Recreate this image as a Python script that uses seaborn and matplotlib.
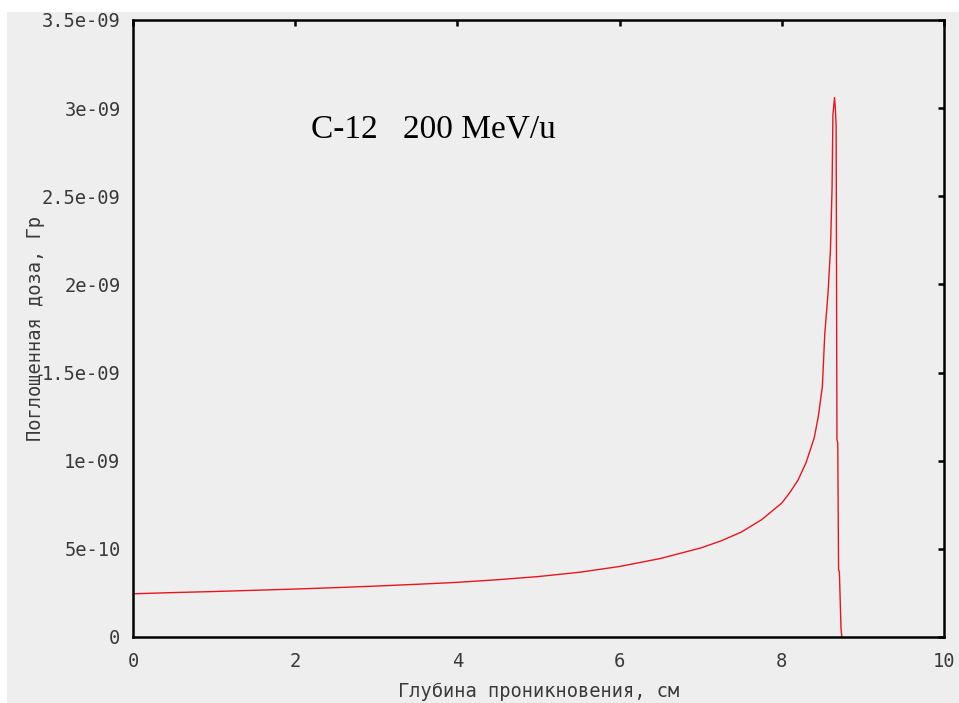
import matplotlib
matplotlib.use("Agg")
import matplotlib.pyplot as plt
import seaborn as sns
import pandas as pd
from matplotlib.ticker import FuncFormatter, MultipleLocator
from matplotlib.patches import Rectangle

# Depth (cm) and absorbed dose (Gy, in units of 1e-9)
depth = [0, 0.5, 1, 1.5, 2, 2.5, 3, 3.5, 4, 4.5, 5, 5.5, 6, 6.5, 7, 7.25,
         7.5, 7.75, 8.0, 8.1, 8.2, 8.3, 8.4, 8.45, 8.5, 8.53, 8.57, 8.6,
         8.62, 8.63, 8.65, 8.66, 8.67, 8.68, 8.69, 8.70, 8.71, 8.73, 8.74]
dose_e9 = [0.245, 0.252, 0.258, 0.265, 0.272, 0.280, 0.289, 0.299, 0.31,
           0.325, 0.343, 0.367, 0.40, 0.445, 0.505, 0.545, 0.595, 0.665, 0.76,
           0.82, 0.89, 0.99, 1.13, 1.25, 1.42, 1.72, 1.95, 2.20, 2.55,
           2.96, 3.06, 3.0, 2.9, 1.12, 1.1, 0.38, 0.37, 0.05, 0.0]

x_label = "Глубина проникновения, см"
y_label = "Поглощенная доза, Гр"
note = "C-12   200 MeV/u"

df = pd.DataFrame({"depth": depth, "dose": [v * 1e-9 for v in dose_e9]})

sns.set_theme(style="white")
plt.rcParams["font.family"] = ["DejaVu Sans Mono"]

bg = "#eeeeee"
fig = plt.figure(figsize=(9.59, 7.03), dpi=100, facecolor=bg)
fig.add_artist(Rectangle((0, 1 - 12 / 703), 1, 12 / 703, transform=fig.transFigure,
                         facecolor="white", edgecolor="none"))
fig.add_artist(Rectangle((0, 0), 7 / 959, 1, transform=fig.transFigure,
                         facecolor="white", edgecolor="none"))
ax = fig.add_axes([133 / 959, 1 - 637 / 703, (944 - 133) / 959, (637 - 20) / 703])
ax.set_facecolor(bg)

sns.lineplot(data=df, x="depth", y="dose", ax=ax, color="#e8151f",
             linewidth=1.0, estimator=None, sort=False)

ax.set_xlim(0, 10)
ax.set_ylim(0, 3.5e-9)
ax.xaxis.set_major_locator(MultipleLocator(2))
ax.yaxis.set_major_locator(MultipleLocator(0.5e-9))
ax.yaxis.set_major_formatter(FuncFormatter(lambda v, p: "%g" % v if abs(v) > 1e-20 else "0"))
ax.xaxis.set_major_formatter(FuncFormatter(lambda v, p: "%g" % v))

for s in ax.spines.values():
    s.set_color("black")
    s.set_linewidth(1.8)
ax.tick_params(direction="in", length=4, width=1.8, colors="black",
               top=True, right=True, labelsize=13.5, labelcolor="#3a3a3a")
ax.tick_params(axis="x", pad=11)
ax.tick_params(axis="y", pad=9)

ax.set_xlabel(x_label, fontsize=13.5, color="#3a3a3a", labelpad=8)
ax.set_ylabel(y_label, fontsize=13.5, color="#3a3a3a", labelpad=-2)

ax.text(2.2, 2.88e-9, note, fontsize=24, family="Liberation Serif",
        color="black", ha="left", va="center")

fig.savefig("out.png", dpi=100, facecolor=bg)
